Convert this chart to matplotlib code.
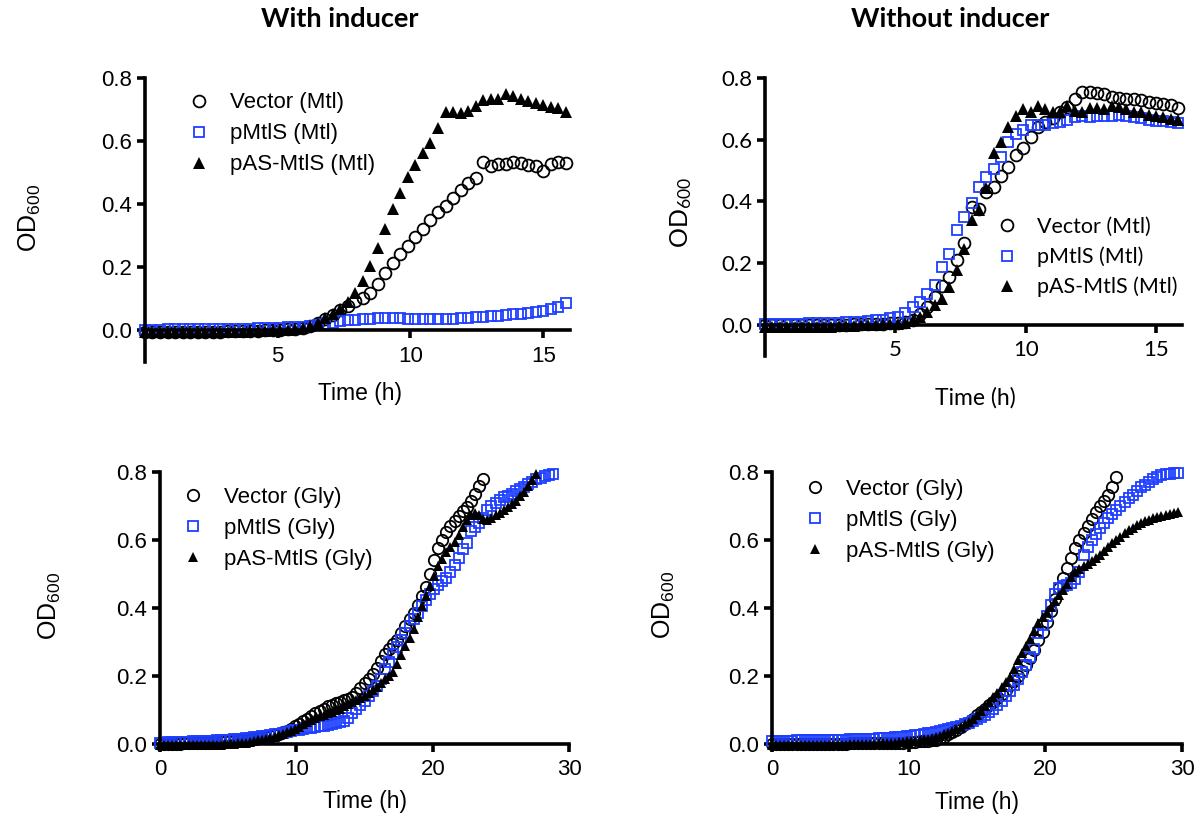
import numpy as np
import matplotlib
matplotlib.use('Agg')
import matplotlib.pyplot as plt
from matplotlib.ticker import FormatStrFormatter

plt.rcParams['font.family'] = ['Liberation Sans', 'DejaVu Sans']
plt.rcParams['mathtext.default'] = 'regular'

# hours between plate reads
DT_MTL = 0.283
DT_GLY = 0.3

LABELS_MTL = ['Vector (Mtl)', 'pMtlS (Mtl)', 'pAS-MtlS (Mtl)']
LABELS_GLY = ['Vector (Gly)', 'pMtlS (Gly)', 'pAS-MtlS (Gly)']

# ---- with inducer, mannitol (OD600)
ind_mtl_vector = [-0.004] * 11 + [
    -0.003, -0.003, -0.002, -0.002, -0.001, 0.000, 0.000,
    0.001, 0.003, 0.005, 0.009, 0.015, 0.024, 0.036, 0.050, 0.065, 0.077,
    0.093, 0.102, 0.120, 0.146, 0.183, 0.215, 0.241, 0.268, 0.297, 0.321,
    0.350, 0.374, 0.393, 0.419, 0.446, 0.467, 0.483, 0.535, 0.522, 0.527,
    0.527, 0.535, 0.530, 0.525, 0.522, 0.506, 0.529, 0.534, 0.532]
ind_mtl_pmtls = [
    0.002, 0.002, 0.002, 0.003, 0.003, 0.003, 0.003, 0.004, 0.004, 0.004,
    0.004, 0.005, 0.005, 0.006, 0.006, 0.007, 0.007, 0.008,
    0.009, 0.010, 0.011, 0.012, 0.014, 0.017, 0.020, 0.025, 0.029, 0.032,
    0.034, 0.036, 0.037, 0.038, 0.039, 0.039, 0.038, 0.037, 0.036, 0.035,
    0.035, 0.035, 0.036, 0.037, 0.038, 0.040, 0.042, 0.044, 0.045, 0.047,
    0.049, 0.051, 0.053, 0.056, 0.059, 0.063, 0.068, 0.075, 0.087]
ind_mtl_pas = [-0.006] * 11 + [
    -0.005, -0.005, -0.004, -0.003, -0.002, -0.001, 0.000,
    0.001, 0.002, 0.004, 0.008, 0.015, 0.025, 0.038, 0.051, 0.069, 0.090,
    0.120, 0.157, 0.204, 0.262, 0.323, 0.384, 0.437, 0.485, 0.525, 0.562,
    0.593, 0.643, 0.694, 0.691, 0.688, 0.696, 0.712, 0.731, 0.735, 0.735,
    0.751, 0.744, 0.733, 0.726, 0.720, 0.714, 0.707, 0.704, 0.694]

# ---- without inducer, mannitol
noind_mtl_vector = [0.000] * 10 + [
    0.001, 0.001, 0.002, 0.002, 0.003, 0.004, 0.005, 0.006,
    0.008, 0.011, 0.018, 0.035, 0.060, 0.091, 0.127, 0.156, 0.210, 0.267,
    0.382, 0.375, 0.431, 0.447, 0.484, 0.511, 0.549, 0.574, 0.608, 0.640,
    0.657, 0.670, 0.689, 0.705, 0.732, 0.754, 0.754, 0.751, 0.748, 0.737,
    0.734, 0.732, 0.732, 0.729, 0.721, 0.718, 0.716, 0.713, 0.703]
noind_mtl_pmtls = [
    0.003, 0.003, 0.004, 0.004, 0.005, 0.005, 0.006, 0.006, 0.007, 0.007,
    0.008, 0.009, 0.010, 0.011, 0.013, 0.015, 0.018, 0.022,
    0.027, 0.038, 0.059, 0.075, 0.102, 0.131, 0.188, 0.231, 0.307, 0.350,
    0.396, 0.447, 0.479, 0.506, 0.544, 0.592, 0.619, 0.630, 0.646, 0.646,
    0.648, 0.654, 0.657, 0.665, 0.673, 0.676, 0.673, 0.678, 0.678, 0.676,
    0.680, 0.678, 0.673, 0.670, 0.665, 0.662, 0.659, 0.657, 0.654]
noind_mtl_pas = [-0.005] * 10 + [
    -0.004, -0.003, -0.002, -0.001, 0.000, 0.001, 0.002, 0.003, 0.005, 0.008,
    0.016, 0.027, 0.043, 0.065, 0.086, 0.124, 0.178, 0.245, 0.339, 0.371,
    0.443, 0.558, 0.592, 0.640, 0.676, 0.700, 0.689, 0.710, 0.700, 0.689,
    0.691, 0.710, 0.694, 0.691, 0.702, 0.702, 0.700, 0.710, 0.705, 0.700,
    0.691, 0.689, 0.680, 0.678, 0.673, 0.668, 0.665]

# ---- with inducer, glycerol
ind_gly_vector = [
    0.000, 0.000, 0.000, 0.001, 0.001, 0.001, 0.002, 0.002, 0.002, 0.003, 0.003,
    0.004, 0.004, 0.005, 0.006, 0.006, 0.007, 0.008, 0.009, 0.010, 0.011,
    0.012, 0.014, 0.015, 0.017, 0.019, 0.021, 0.024,
    0.027, 0.030, 0.034, 0.039, 0.045, 0.052,
    0.059, 0.066, 0.074, 0.082, 0.090, 0.097, 0.104,
    0.110, 0.115, 0.120, 0.124, 0.128, 0.132, 0.138, 0.150, 0.165, 0.180,
    0.192, 0.205, 0.222, 0.245, 0.263, 0.278, 0.293, 0.307, 0.325, 0.346,
    0.366, 0.386, 0.410, 0.436, 0.463, 0.500, 0.540, 0.575, 0.600, 0.622,
    0.642, 0.657, 0.670, 0.684, 0.698, 0.715, 0.735, 0.758, 0.780]
ind_gly_pmtls = [
    0.004, 0.004, 0.005, 0.005, 0.005, 0.006, 0.006, 0.006, 0.007, 0.007, 0.008,
    0.008, 0.009, 0.009, 0.010, 0.011, 0.011, 0.012, 0.013, 0.014, 0.015,
    0.016, 0.017, 0.019, 0.020, 0.022, 0.024, 0.026,
    0.028, 0.030, 0.032, 0.035, 0.037, 0.040,
    0.042, 0.044, 0.046, 0.048, 0.050, 0.052, 0.054,
    0.056, 0.058, 0.060, 0.063, 0.067, 0.075,
    0.090, 0.102, 0.115, 0.127,
    0.140, 0.155, 0.170, 0.190, 0.220,
    0.242, 0.265, 0.285, 0.305, 0.327,
    0.348, 0.368, 0.385, 0.405, 0.424,
    0.440, 0.455, 0.468, 0.478, 0.488,
    0.505, 0.525, 0.548, 0.572, 0.590,
    0.625, 0.639, 0.650, 0.665, 0.688,
    0.700, 0.710, 0.719, 0.725, 0.730,
    0.736, 0.743, 0.750, 0.757, 0.765,
    0.772, 0.778, 0.783, 0.788, 0.792, 0.795]
ind_gly_pas = [-0.004] * 11 + [
    -0.004, -0.003, -0.003, -0.002, -0.002, -0.001, 0.000, 0.001, 0.002, 0.003,
    0.004, 0.006, 0.008, 0.010, 0.012, 0.015, 0.018,
    0.021, 0.025, 0.029, 0.034, 0.039, 0.045,
    0.051, 0.058, 0.064, 0.070, 0.076, 0.081, 0.086,
    0.090, 0.095, 0.099, 0.104, 0.110, 0.116,
    0.122, 0.128, 0.134, 0.141,
    0.149, 0.158, 0.167, 0.178, 0.190,
    0.199, 0.210, 0.235, 0.262, 0.288,
    0.312, 0.338, 0.372, 0.405, 0.434,
    0.465, 0.495, 0.522, 0.545, 0.566,
    0.580, 0.595, 0.615, 0.637, 0.659,
    0.672, 0.680, 0.672, 0.662, 0.660,
    0.665, 0.672, 0.680, 0.688, 0.697,
    0.705, 0.715, 0.728, 0.742, 0.758,
    0.776, 0.795]

# ---- without inducer, glycerol
noind_gly_vector = [0.000] * 11 + [
    0.000, 0.000, 0.000, 0.001, 0.001, 0.001, 0.001, 0.001, 0.002, 0.002,
    0.002, 0.002, 0.002, 0.002, 0.003, 0.003, 0.003,
    0.003, 0.003, 0.004, 0.004, 0.004, 0.005,
    0.005, 0.006, 0.007, 0.008, 0.009, 0.010,
    0.012, 0.016, 0.021, 0.028, 0.034, 0.041, 0.049, 0.057, 0.065, 0.074, 0.084,
    0.094, 0.104, 0.114, 0.124, 0.134,
    0.146, 0.158, 0.172, 0.186, 0.200,
    0.215, 0.232, 0.253, 0.275, 0.305,
    0.330, 0.360, 0.392, 0.425, 0.458,
    0.488, 0.518, 0.548, 0.575, 0.600,
    0.621, 0.642, 0.662, 0.681, 0.699,
    0.716, 0.733, 0.755, 0.785]
noind_gly_pmtls = [
    0.008, 0.008, 0.009, 0.009, 0.009, 0.009, 0.010, 0.010, 0.010, 0.010, 0.010,
    0.010, 0.011, 0.011, 0.011, 0.011, 0.012, 0.012, 0.012, 0.013, 0.013,
    0.013, 0.014, 0.014, 0.015, 0.015, 0.016, 0.017,
    0.017, 0.018, 0.019, 0.020, 0.021, 0.022,
    0.023, 0.025, 0.027, 0.029, 0.031, 0.033,
    0.035, 0.037, 0.040, 0.043, 0.046, 0.050, 0.054, 0.058, 0.062, 0.067, 0.072,
    0.078, 0.086, 0.095, 0.104, 0.114,
    0.126, 0.140, 0.155, 0.172, 0.190,
    0.210, 0.232, 0.256, 0.280, 0.325,
    0.350, 0.375, 0.410, 0.440, 0.460,
    0.465, 0.468, 0.474, 0.485, 0.507,
    0.555, 0.580, 0.600, 0.618, 0.635,
    0.650, 0.664, 0.677, 0.689, 0.700,
    0.711, 0.722, 0.733, 0.745, 0.755,
    0.763, 0.772, 0.780, 0.786, 0.790,
    0.793, 0.795, 0.797, 0.797]
noind_gly_pas = [-0.004] * 11 + [
    -0.004, -0.004, -0.003, -0.003, -0.003, -0.002, -0.002, -0.002, -0.001, -0.001,
    -0.001, 0.000, 0.000, 0.001, 0.001, 0.002, 0.002,
    0.003, 0.003, 0.004, 0.005, 0.006, 0.007,
    0.008, 0.009, 0.011, 0.013, 0.015, 0.017,
    0.020, 0.024, 0.028, 0.033, 0.038, 0.044, 0.050, 0.057, 0.065, 0.074, 0.084,
    0.097, 0.110, 0.123, 0.137, 0.151,
    0.166, 0.182, 0.198, 0.220, 0.246,
    0.266, 0.287, 0.310, 0.332, 0.355,
    0.372, 0.388, 0.402, 0.420, 0.438,
    0.453, 0.470, 0.490, 0.505, 0.515,
    0.522, 0.530, 0.538, 0.546, 0.556,
    0.567, 0.578, 0.590, 0.600, 0.610,
    0.619, 0.628, 0.636, 0.643, 0.650,
    0.656, 0.660, 0.664, 0.667, 0.670,
    0.673, 0.676, 0.680, 0.682]

BLUE = '#1f3fff'


def hours(vals, dt):
    return np.arange(len(vals)) * dt


def draw_panel(ax, series, dt, labels, xlim, xticks, ylim, ms, family):
    vec, pm, pas = series
    ax.plot(hours(vec, dt), vec, 'o', mfc='none', mec='black', ms=ms, mew=1.3,
            clip_on=False, label=labels[0])
    ax.plot(hours(pm, dt), pm, 's', mfc='none', mec=BLUE, ms=ms - 0.6, mew=1.3,
            clip_on=False, label=labels[1])
    ax.plot(hours(pas, dt), pas, '^', color='black', ms=ms - 0.3, mew=0,
            clip_on=False, label=labels[2])

    ax.set_xlim(*xlim)
    ax.set_ylim(*ylim)
    ax.spines['top'].set_visible(False)
    ax.spines['right'].set_visible(False)
    ax.spines['bottom'].set_position(('data', 0))
    for s in ('left', 'bottom'):
        ax.spines[s].set_linewidth(2.6)
    ax.set_xticks(xticks)
    ax.set_yticks([0, 0.2, 0.4, 0.6, 0.8])
    ax.yaxis.set_major_formatter(FormatStrFormatter('%.1f'))
    ax.tick_params(width=2.6, length=6, labelsize=16)
    ax.tick_params(axis='x', pad=5)
    ax.tick_params(axis='y', pad=3)
    for lbl in ax.get_xticklabels() + ax.get_yticklabels():
        lbl.set_fontfamily(family)
    ax.set_xlabel('Time (h)', fontsize=16.5, family=family)
    ax.set_ylabel('OD$_{600}$', fontsize=18, family=family)


def add_legend(ax, anchor, family, size):
    ax.legend(loc='upper left', bbox_to_anchor=anchor, frameon=False,
              prop={'family': family, 'size': size}, handlelength=1.0,
              handletextpad=0.9, labelspacing=0.45, borderpad=0, borderaxespad=0)


fig = plt.figure(figsize=(12, 8.18), dpi=100)

ax1 = fig.add_axes([0.1208, 0.5575, 0.354, 0.347])
draw_panel(ax1, (ind_mtl_vector, ind_mtl_pmtls, ind_mtl_pas), DT_MTL, LABELS_MTL,
           (0, 16), [5, 10, 15], (-0.1, 0.8), 8.5, 'Liberation Sans')
ax1.xaxis.set_label_coords(0.506, -0.07)
ax1.yaxis.set_label_coords(-0.24, 0.507)
add_legend(ax1, (0.10, 0.95), 'Liberation Sans', 16)

ax2 = fig.add_axes([0.6375, 0.5648, 0.3475, 0.340])
draw_panel(ax2, (noind_mtl_vector, noind_mtl_pmtls, noind_mtl_pas), DT_MTL, LABELS_MTL,
           (0, 16), [5, 10, 15], (-0.1, 0.8), 8.5, 'Lato')
ax2.xaxis.set_label_coords(0.504, -0.11)
ax2.yaxis.set_label_coords(-0.17, 0.518)
add_legend(ax2, (0.554, 0.50), 'Lato', 15.5)

ax3 = fig.add_axes([0.1333, 0.0844, 0.341, 0.3386])
draw_panel(ax3, (ind_gly_vector, ind_gly_pmtls, ind_gly_pas), DT_GLY, LABELS_GLY,
           (0, 30), [0, 10, 20, 30], (-0.015, 0.8), 8.2, 'Liberation Sans')
ax3.xaxis.set_label_coords(0.50, -0.148)
ax3.yaxis.set_label_coords(-0.237, 0.516)
add_legend(ax3, (0.054, 0.945), 'Liberation Sans', 16)

ax4 = fig.add_axes([0.6433, 0.0844, 0.3417, 0.3386])
draw_panel(ax4, (noind_gly_vector, noind_gly_pmtls, noind_gly_pas), DT_GLY, LABELS_GLY,
           (0, 30), [0, 10, 20, 30], (-0.015, 0.8), 8.2, 'Liberation Sans')
ax4.xaxis.set_label_coords(0.50, -0.15)
ax4.yaxis.set_label_coords(-0.232, 0.52)
add_legend(ax4, (0.078, 0.975), 'Liberation Sans', 16)

fig.text(340 / 1200, 1 - 19 / 818, 'With inducer', ha='center', va='center',
         fontsize=19.5, fontweight='bold', family='Lato')
fig.text(950 / 1200, 1 - 19 / 818, 'Without inducer', ha='center', va='center',
         fontsize=19.5, fontweight='bold', family='Lato')

fig.savefig('out.png', dpi=100)
